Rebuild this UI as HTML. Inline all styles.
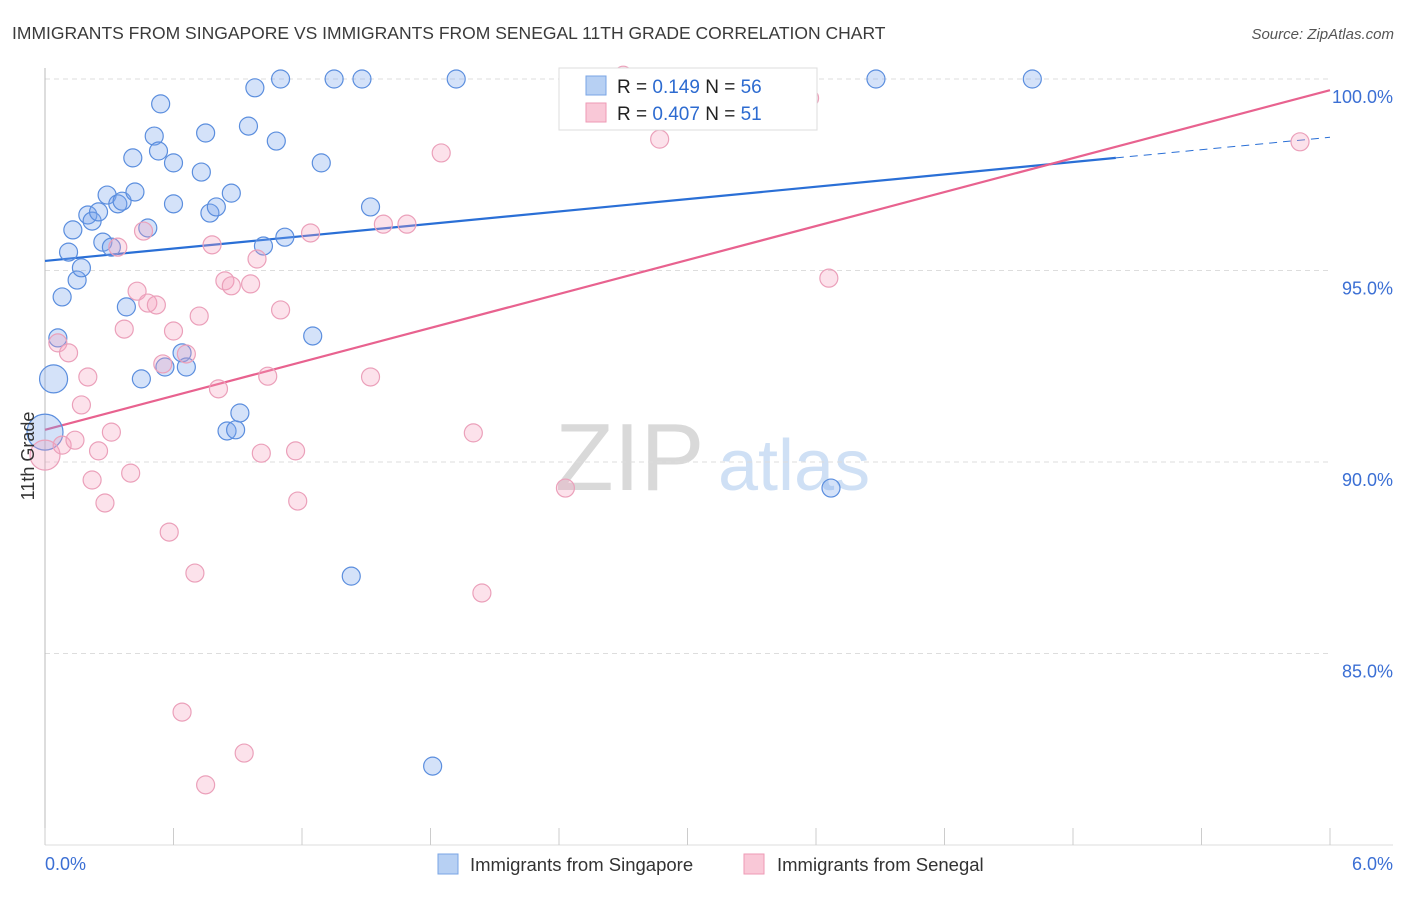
<!DOCTYPE html>
<html><head><meta charset="utf-8"><style>
body{margin:0;background:#fff;font-family:"Liberation Sans",sans-serif;}
svg text{font-family:"Liberation Sans",sans-serif;}
</style></head><body>
<svg id="chart" width="1406" height="892" viewBox="0 0 1406 892" xmlns="http://www.w3.org/2000/svg">
<text x="12" y="39" font-size="17.5" fill="#3a3a3a">IMMIGRANTS FROM SINGAPORE VS IMMIGRANTS FROM SENEGAL 11TH GRADE CORRELATION CHART</text>
<text x="1394" y="39" font-size="15" fill="#555" font-style="italic" text-anchor="end">Source: ZipAtlas.com</text>
<g>
<text x="555" y="490" font-size="96" fill="#d9d9d9" font-family="Liberation Serif,serif">ZIP</text>
<text x="718" y="490" font-size="72" fill="#cfe0f5">atlas</text>
</g>
<g id="grid"></g><g id="axes"></g><g id="lines"></g><g id="pts"></g>
<text transform="translate(34,456) rotate(-90)" font-size="18" fill="#333" text-anchor="middle">11th Grade</text>
<g>
<rect x="559" y="68" width="258" height="62" fill="#fff" stroke="#ddd"/>
<rect x="586" y="76" width="20" height="19" fill="#b7d0f3" stroke="#7aa5e4"/>
<rect x="586" y="103" width="20" height="19" fill="#f9c8d7" stroke="#ee9ab5"/>
<text x="617" y="93" font-size="19" fill="#222">R = <tspan fill="#2d6bd0"> 0.149</tspan>   N = <tspan fill="#2d6bd0">56</tspan></text>
<text x="617" y="120" font-size="19" fill="#222">R = <tspan fill="#2d6bd0">0.407</tspan>   N = <tspan fill="#2d6bd0"> 51</tspan></text>
</g>
<g>
<rect x="438" y="854" width="20" height="20" fill="#b7d0f3" stroke="#7aa5e4"/>
<text x="470" y="871" font-size="18.5" fill="#333">Immigrants from Singapore</text>
<rect x="744" y="854" width="20" height="20" fill="#f9c8d7" stroke="#ee9ab5"/>
<text x="777" y="871" font-size="18.5" fill="#333">Immigrants from Senegal</text>
</g>
</svg>
<script>
const blueX=[0.04,0.0,0.06,0.08,0.15,0.17,0.11,0.13,0.20,0.22,0.25,0.27,0.31,0.29,0.34,0.36,0.42,0.41,0.48,0.38,0.45,0.51,0.53,0.54,0.60,0.60,0.56,0.64,0.66,0.73,0.75,0.77,0.80,0.87,0.85,0.89,0.91,0.95,0.98,1.02,1.08,1.10,1.12,1.25,1.29,1.35,1.48,1.52,1.43,1.81,1.92,3.08,3.22,3.67,3.88,4.61];
const blueY=[92.17,90.78,93.24,94.31,94.75,95.07,95.48,96.06,96.45,96.29,96.53,95.74,95.61,96.97,96.74,96.81,97.05,97.94,96.11,94.05,92.17,98.51,98.12,99.35,97.81,96.74,92.48,92.85,92.48,97.57,98.59,96.50,96.66,97.02,90.81,90.84,91.28,98.77,99.77,95.64,98.38,100,95.87,93.29,97.81,100,100,96.66,87.02,82.06,100,100.05,99.24,89.32,100,100];
const blueSize=[14,18];
const pinkX=[0.0,0.06,0.08,0.11,0.14,0.17,0.20,0.22,0.25,0.28,0.31,0.34,0.37,0.40,0.43,0.46,0.48,0.52,0.55,0.58,0.60,0.64,0.66,0.70,0.72,0.75,0.78,0.81,0.84,0.87,0.93,0.96,0.99,1.01,1.04,1.10,1.17,1.18,1.24,1.52,1.58,1.69,1.85,2.00,2.04,2.43,2.70,2.87,3.57,3.66,5.86];
const pinkY=[90.18,93.11,90.44,92.85,90.57,91.49,92.22,89.53,90.29,88.93,90.78,95.61,93.47,89.71,94.46,96.03,94.15,94.10,92.56,88.17,93.42,83.47,92.82,87.10,93.81,81.57,95.67,91.91,94.73,94.60,82.40,94.65,95.30,90.23,92.24,93.97,90.29,88.98,95.98,92.22,96.21,96.21,98.07,90.76,86.58,89.32,100.1,98.43,99.5,94.80,98.36];
const pinkSize=[15];
const trendIntercept=[95.25,90.84];
const trendSlope=[0.538,1.478];
const yTicks=[100,95,90,85];
const yTickLabels=["100.0%","95.0%","90.0%","85.0%"];
const xTicks=[0,0.5,1,1.5,2,2.5,3,3.5,4,4.5,5,5.5,6];
const NS="http://www.w3.org/2000/svg";
const X=v=>45+v/6*1285, Y=v=>79+(100-v)*38.3;
function mk(t,a,p){const e=document.createElementNS(NS,t);for(const k in a)e.setAttribute(k,a[k]);p.appendChild(e);return e;}
const grid=document.getElementById('grid'),axes=document.getElementById('axes'),lines=document.getElementById('lines'),pts=document.getElementById('pts');
yTicks.forEach((t,i)=>{
 const l=mk('line',{x1:45,x2:1330,y1:Y(t),y2:Y(t),stroke:'#ddd','stroke-dasharray':'5,4'},grid);
 
 
 const tx=mk('text',{x:1393,y:Y(t)+24,'font-size':18,fill:'#3b6fd4','text-anchor':'end'},axes);
 tx.textContent=yTickLabels[i];
 
 
});
const ax=mk('line',{x1:45,x2:45,y1:68,y2:845,stroke:'#bbb'},axes);


const bx=mk('line',{x1:45,x2:1393,y1:845,y2:845,stroke:'#ddd'},axes);


xTicks.filter((t,i)=>i%1==0&&t<=6).forEach((t,i)=>{if(i%1)return;
 if(Math.round(t*2)%1)return;
});
[0,0.6,1.2,1.8,2.4,3.0,3.6,4.2,4.8,5.4,6].forEach(t=>{
 const k=mk('line',{x1:X(t),x2:X(t),y1:828,y2:845,stroke:'#ccc'},axes);
 
 
});
const xl0=mk('text',{x:45,y:870,'font-size':18,fill:'#3b6fd4'},axes);xl0.textContent='0.0%';


const xl1=mk('text',{x:1393,y:870,'font-size':18,fill:'#3b6fd4','text-anchor':'end'},axes);xl1.textContent='6.0%';


function pts_(xs,ys,sz,fill,stroke,name){
 xs.forEach((x,i)=>{
  const c=mk('circle',{cx:X(x),cy:Y(ys[i]),r:sz[i]||9,fill:fill,stroke:stroke,'stroke-width':1.2},pts);
  
  
 });
}
pts_(blueX,blueY,blueSize,'rgba(120,165,235,0.32)','#5b8ede','point-singapore');
pts_(pinkX,pinkY,pinkSize,'rgba(245,160,190,0.3)','#eba0ba','point-senegal');
function ln(a,b,s,col,dash,name){
 const l=mk('line',{x1:X(a),y1:Y(trendIntercept[s]+trendSlope[s]*a),x2:X(b),y2:Y(trendIntercept[s]+trendSlope[s]*b),stroke:col,'stroke-width':dash?1:2.2},lines);
 if(dash)l.setAttribute('stroke-dasharray','8,6');
 
 
}
ln(0,5,0,'#2a6fd6',false,'trend-singapore');
ln(5,6,0,'#2a6fd6',true,'trend-singapore-extension');
ln(0,6,1,'#e8628f',false,'trend-senegal');
</script>
</body></html>
